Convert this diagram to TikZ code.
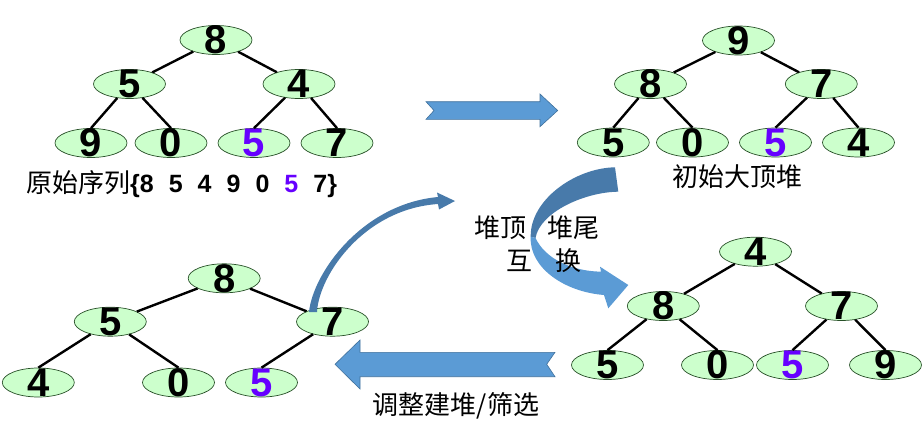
\documentclass[tikz,border=0pt]{standalone}
\usepackage{fontspec}
\setmainfont{Liberation Sans}
\newfontfamily\cjk{Noto Sans CJK SC}
\usetikzlibrary{shapes.geometric}
\definecolor{heapfill}{RGB}{204,255,204}
\definecolor{heapline}{RGB}{40,80,40}
\definecolor{markpurple}{RGB}{102,0,255}
\definecolor{arrowblue}{RGB}{91,155,213}
\definecolor{arrowedge}{RGB}{65,113,156}
\definecolor{arrowdark}{RGB}{72,122,170}
\newcommand{\sk}{\hspace{.6em}}

\begin{document}
\begin{tikzpicture}[x=1pt, y=-1pt,
  hp/.style={ellipse, draw=heapline, fill=heapfill, line width=0.7pt, minimum width=72pt, minimum height=29pt, inner xsep=0pt, inner ysep=-7pt, font=\fontsize{40}{40}\selectfont\bfseries},
  hq/.style={hp, text=markpurple},
  link/.style={line width=2.4pt},
  cn/.style={font=\cjk\fontsize{26}{33.5}\selectfont, inner sep=0pt},
  blockarrow/.style={fill=arrowblue, draw=arrowedge, line width=0.6pt}
]
  \useasboundingbox (0,0) rectangle (924,436);

  % original sequence
  \node[hp] (a1) at (216,40) {8};
  \node[hp] (a2) at (129.5,84) {5};
  \node[hp] (a3) at (299,84) {4};
  \node[hp] (a4) at (91,143) {9};
  \node[hp] (a5) at (171,143) {0};
  \node[hq] (a6) at (254,143) {5};
  \node[hp] (a7) at (337,143) {7};

  % initial max heap
  \node[hp] (b1) at (738.5,40.5) {9};
  \node[hp] (b2) at (650.5,84) {8};
  \node[hp] (b3) at (821.3,84) {7};
  \node[hp] (b4) at (613.3,142.5) {5};
  \node[hp] (b5) at (692.5,142.5) {0};
  \node[hq] (b6) at (775.5,142.5) {5};
  \node[hp] (b7) at (858.5,142.5) {4};

  % after swap
  \node[hp] (c1) at (755.5,251.7) {4};
  \node[hp] (c2) at (663.3,306) {8};
  \node[hp] (c3) at (841.5,306) {7};
  \node[hp] (c4) at (607.5,365) {5};
  \node[hp] (c5) at (717.5,365) {0};
  \node[hq] (c6) at (792.5,365) {5};
  \node[hp] (c7) at (885.5,365) {9};

  % after sift down
  \node[hp] (d1) at (224.2,278.3) {8};
  \node[hp] (d2) at (110.3,321.7) {5};
  \node[hp] (d3) at (332.5,321.7) {7};
  \node[hp] (d4) at (38.3,382.5) {4};
  \node[hp] (d5) at (178.5,382.5) {0};
  \node[hq] (d6) at (261.5,382.5) {5};

  \foreach \p/\c in {a1/a2, a1/a3, b1/b2, b1/b3, c1/c2, c1/c3, d1/d2, d1/d3}
    \draw[link] (\p) -- (\c);
  \foreach \p/\c in {a2/a4, a2/a5, a3/a6, a3/a7, b2/b4, b2/b5, b3/b6, b3/b7,
                     c2/c4, c2/c5, c3/c6, c3/c7, d2/d4, d2/d5, d3/d6}
    \draw[link] (\p) -- (\c.north);

  % block arrows
  \draw[blockarrow] (426,101.7) -- (540,101.7) -- (540,94) -- (557.7,110.5) -- (540,126.7)
    -- (540,119.3) -- (426,119.3) -- (434,110.5) -- cycle;
  \draw[blockarrow] (335,364.3) -- (360,340) -- (360,352.3) -- (555,352.3) -- (546.7,364.3)
    -- (555,376.7) -- (360,376.7) -- (360,389) -- cycle;

  % curved swap arrow
  \fill[arrowdark] (615,167.3) .. controls (575,168) and (530,200) .. (530.7,236.7)
    -- (535.5,238) .. controls (540,212) and (585,192) .. (618.3,191.7) -- cycle;
  \fill[arrowblue] (530.7,236.7) .. controls (529,268) and (565,292) .. (604,295)
    -- (608.3,308.3) -- (628.3,285) -- (600,266.7) -- (601,271.7)
    .. controls (570,271) and (545,258) .. (535.5,238) -- cycle;

  % thin curved arrow
  \fill[arrowdark] (309,312) .. controls (313,273) and (362,204) .. (438,197)
    -- (437,192.5) -- (455,201) -- (439,209.5) -- (438,204)
    .. controls (364,209) and (319,275) .. (317,312) -- cycle;

  % labels
  \node[anchor=west, inner sep=0pt] (seq) at (26,184)
    {{\cjk\fontsize{26}{26}\selectfont 原始序列}{\fontsize{25}{25}\selectfont\bfseries\{8\sk5\sk4\sk9\sk0\sk{\color{markpurple}5}\sk7\}}};
  \node[cn] (init) at (737.5,176.5) {初始大顶堆};
  \node[cn, align=center] (swap) at (537,244) {堆顶\hspace{.8em}堆尾\\\hspace*{14pt}互\hspace{.85em}换};
  \node[cn] (sift) at (456,405.5) {调整建堆/筛选};
\end{tikzpicture}
\end{document}
